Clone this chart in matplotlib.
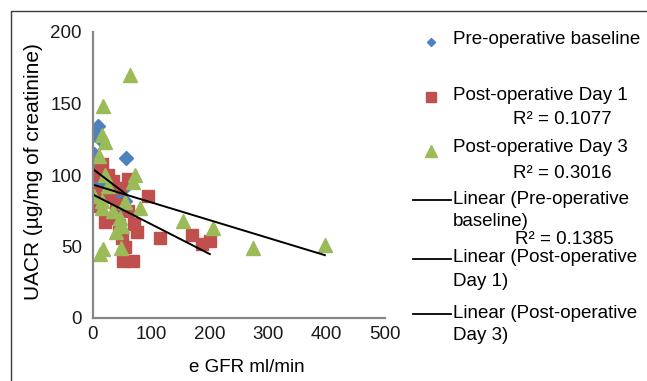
import numpy as np
import matplotlib.pyplot as plt

# e GFR (ml/min) against UACR (ug/mg of creatinine)
pre_gfr = [9, 3, 12, 56, 0.5, 0.5, 6, 57, 55, 40, 20, 30, 1, 45, 12, 5, 15, 8, 25, 35]
pre_uacr = [134, 128, 125, 112, 107, 94, 87, 92, 82, 86, 92, 88, 115, 75, 96, 90, 88, 80, 85, 92]

day1_gfr = [0.5, 12, 15, 25, 35, 46, 60, 95, 20, 30, 75, 70, 49, 52, 69, 55,
            115, 169, 186, 200, 5, 40, 25, 60, 10, 45]
day1_uacr = [100, 102, 108, 100, 96, 91, 97, 85, 67, 70, 60, 66, 56, 40, 40, 50,
             56, 58, 52, 54, 88, 80, 85, 75, 78, 65]

day3_gfr = [63, 17, 15, 20, 10, 72, 69, 80, 154, 206, 274, 397, 12, 17, 48, 55,
            15, 1, 46, 50, 15, 25, 35, 20, 40]
day3_uacr = [170, 148, 128, 123, 113, 100, 95, 77, 68, 63, 49, 51, 45, 48, 49, 81,
             82, 85, 70, 64, 77, 92, 75, 100, 60]

r2_labels = ['R² = 0.1077', 'R² = 0.3016', 'R² = 0.1385']

plt.rcParams['font.family'] = ['Liberation Sans', 'DejaVu Sans']
plt.rcParams['font.size'] = 13.5

W, H = 647, 381
fig = plt.figure(figsize=(W / 100, H / 100), dpi=100)
ax = fig.add_axes([93 / W, 1 - 318 / H, (385 - 93) / W, (318 - 32) / H])

blue, red, green = '#4F81BD', '#C0504D', '#9BBB59'
ax.plot(pre_gfr, pre_uacr, 'D', color=blue, ms=7.6, ls='none')
ax.plot(day1_gfr, day1_uacr, 's', color=red, ms=9.2, ls='none')
ax.plot(day3_gfr, day3_uacr, '^', color=green, ms=10, ls='none')

# linear trend lines over each series' range
for gx, gy in [(pre_gfr, pre_uacr), (day1_gfr, day1_uacr), (day3_gfr, day3_uacr)]:
    k, b = np.polyfit(gx, gy, 1)
    xs = np.array([min(gx), max(gx)])
    ax.plot(xs, k * xs + b, color='black', lw=1.4)

ax.set_xlim(0, 500)
ax.set_ylim(0, 200)
ax.set_xticks(range(0, 501, 100))
ax.set_yticks(range(0, 201, 50))
ax.tick_params(length=0, labelsize=13.5, colors='#1a1a1a')
ax.tick_params(axis='y', pad=8)
ax.tick_params(axis='x', pad=6)
for s in ['top', 'right']:
    ax.spines[s].set_visible(False)
for s in ['left', 'bottom']:
    ax.spines[s].set_color('#878787')
    ax.spines[s].set_linewidth(1.6)

ax.set_xlabel('e GFR ml/min')
ax.xaxis.label.set_va('center')
ax.xaxis.set_label_coords((247 - 93) / 292, (318 - 368) / 286)
ax.set_ylabel('UACR (µg/mg of creatinine)', fontsize=15)
ax.yaxis.label.set_va('center')
ax.yaxis.set_label_coords((33 - 93) / 292, (318 - 172) / 286)

# overlay in pixel coordinates for the legend and the frame
ov = fig.add_axes([0, 0, 1, 1])
ov.set_xlim(0, W)
ov.set_ylim(H, 0)
ov.axis('off')
ov.plot([11, 11, W + 5], [H + 5, 11, 11], color='#3a3a3a', lw=1, clip_on=False)

ov.plot(430.5, 42, 'D', color=blue, ms=4.4)
ov.text(453, 40, 'Pre-operative baseline', va='center')
ov.plot(430.5, 96.5, 's', color=red, ms=7.6)
ov.text(453, 95, 'Post-operative Day 1', va='center')
ov.text(513, 119, r2_labels[0], va='center')
ov.plot(430.5, 151, '^', color=green, ms=8)
ov.text(453, 148, 'Post-operative Day 3', va='center')
ov.text(513, 174, r2_labels[1], va='center')

ov.plot([413, 451], [200, 200], color='black', lw=1.3)
ov.text(453, 199, 'Linear (Pre-operative', va='center')
ov.text(453, 222, 'baseline)', va='center')
ov.text(515, 240, r2_labels[2], va='center')
ov.plot([413, 451], [259, 259], color='black', lw=1.3)
ov.text(453, 258, 'Linear (Post-operative', va='center')
ov.text(453, 282, 'Day 1)', va='center')
ov.plot([413, 451], [313.5, 313.5], color='black', lw=1.3)
ov.text(453, 313, 'Linear (Post-operative', va='center')
ov.text(453, 335, 'Day 3)', va='center')

fig.savefig('out.png', dpi=100)
